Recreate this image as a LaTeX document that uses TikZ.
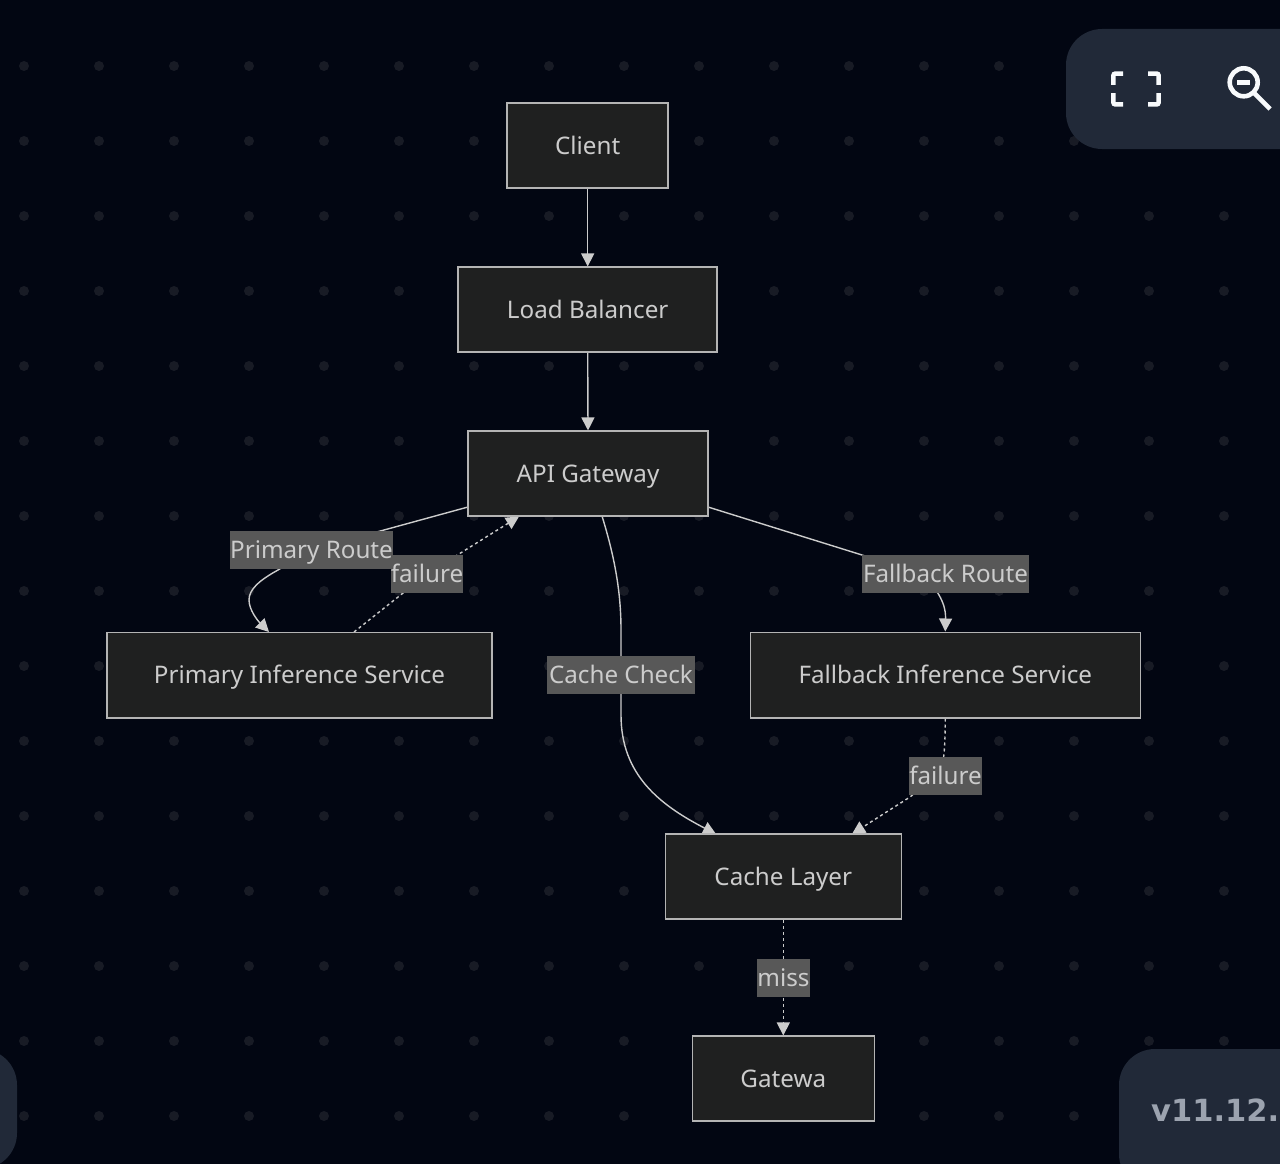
\documentclass[tikz,border=0pt]{standalone}
\usepackage{fontspec}
\setmainfont{Noto Sans}
\newfontfamily\verfont{DejaVu Sans}
\usetikzlibrary{arrows.meta}
\definecolor{bgc}{HTML}{020612}
\definecolor{dotc}{HTML}{181B25}
\definecolor{panelc}{HTML}{212938}
\definecolor{nodec}{HTML}{1F2020}
\definecolor{linec}{HTML}{CCCCCC}
\definecolor{strokec}{HTML}{B4B4B4}
\definecolor{labc}{HTML}{585858}
\definecolor{iconc}{HTML}{F8FAFC}
\definecolor{verc}{HTML}{9CA3AF}
\pgfdeclarelayer{edges}
\pgfsetlayers{edges,main}
\tikzset{
  txt/.style={text=linec,inner sep=0pt,text height=20.5pt,text depth=3.5pt,font=\fontsize{24.2}{30}\selectfont},
  box/.style={txt,draw=strokec,fill=nodec,line width=1.5pt},
  elabel/.style={txt,fill=labc},
  edge/.style={draw=linec,line width=1.4pt,-{Triangle[length=13pt,width=13pt,fill=linec]}},
  dashedge/.style={edge,dash pattern=on 3pt off 3pt},
  panel/.style={fill=panelc,rounded corners=36pt},
  icon/.style={draw=iconc,line width=4.6pt}
}
\begin{document}
\begin{tikzpicture}[x=1pt,y=-1pt]
\useasboundingbox (0,0) rectangle (1280,1164);
\clip (0,0) rectangle (1280,1164);
% nodes
\node[box,minimum width=161pt,minimum height=85pt] (client) at (587.7,145.7) {Client};
\node[box,minimum width=259pt,minimum height=85pt] (lb) at (587.7,309.7) {Load Balancer};
\node[box,minimum width=240pt,minimum height=85pt] (api) at (588,473.7) {API Gateway};
\node[box,minimum width=385pt,minimum height=85.5pt] (primary) at (299.5,675) {Primary Inference Service};
\node[box,minimum width=390pt,minimum height=85.5pt] (fallback) at (945.3,675) {Fallback Inference Service};
\node[box,minimum width=236pt,minimum height=85pt] (cache) at (783.3,876.7) {Cache Layer};
\node[box,minimum width=182pt,minimum height=85pt] (gw) at (783.3,1078.7) {Gatewa};
% connector anchors
\coordinate (apiL) at (468,507);
\coordinate (apiR) at (708,507);
\coordinate (apiB) at (602,516);
\coordinate (apiIn) at (519,516.5);
\coordinate (priIn) at (269,632);
\coordinate (priOut) at (354,632);
\coordinate (cacheInL) at (716,834);
\coordinate (cacheInR) at (852,834);
\begin{pgfonlayer}{edges}
\fill[bgc] (0,0) rectangle (1280,1164);
% dotted background
\foreach \gx in {24,99,...,1224}
  \foreach \gy in {66,141,...,1116}
    \fill[dotc] (\gx,\gy) circle[radius=5];
% connectors
\draw[edge] (client.south) -- (lb.north);
\draw[edge] (lb.south) -- (api.north);
\draw[edge] (apiL) -- (311,550) -- (278,570)
  .. controls (258,581) and (249,590) .. (249,600)
  .. controls (249,610) and (258,621) .. (priIn);
\draw[dashedge] (priOut) -- (427,574) -- (apiIn);
\draw[edge] (apiB) .. controls (614,555) and (621,590) .. (621,630)
  -- (621,715)
  .. controls (621,775) and (660,805) .. (cacheInL);
\draw[edge] (apiR) -- (862,555) -- (925,575)
  .. controls (934,588) and (946,600) .. (fallback.north);
\draw[dashedge] (fallback.south) .. controls (945,740) and (945,755) .. (941,772)
  -- (910,797) -- (cacheInR);
\draw[dashedge] (cache.south) -- (gw.north);
\end{pgfonlayer}
% edge labels
\node[elabel,minimum width=163pt,minimum height=38pt] (lPrimary) at (311.5,550) {Primary Route};
\node[elabel,minimum width=72pt,minimum height=38pt] (lFail1) at (427,574) {failure};
\node[elabel,minimum width=167pt,minimum height=38pt] (lFallback) at (945.5,574) {Fallback Route};
\node[elabel,minimum width=148pt,minimum height=38pt] (lCache) at (621,675) {Cache Check};
\node[elabel,minimum width=71pt,minimum height=38pt] (lFail2) at (945.5,776) {failure};
\node[elabel,minimum width=51pt,minimum height=38pt] (lMiss) at (783.5,978) {miss};
% panels
\fill[panel] (1066,29) rectangle (1340,149);
\fill[panel] (1119,1049) rectangle (1340,1190);
\fill[panel] (-100,1049) rectangle (17,1169);
% fullscreen icon
\draw[icon,line cap=butt,rounded corners=2pt] (1123,73.6) -- (1113.4,73.6) -- (1113.4,85);
\draw[icon,line cap=butt,rounded corners=2pt] (1148,73.6) -- (1158.6,73.6) -- (1158.6,85);
\draw[icon,line cap=butt,rounded corners=2pt] (1123,104.4) -- (1113.4,104.4) -- (1113.4,93);
\draw[icon,line cap=butt,rounded corners=2pt] (1148,104.4) -- (1158.6,104.4) -- (1158.6,93);
% zoom icon
\draw[icon] (1243.7,82.3) circle[radius=14];
\draw[icon] (1253.5,92.5) -- (1270,109);
\draw[icon] (1237,82.5) -- (1250,82.5);
% version
\node[anchor=base west,inner sep=0pt,text=verc,font=\fontsize{30.5}{36}\verfont\bfseries] (ver) at (1151,1121) {v11.12.};
\end{tikzpicture}
\end{document}
